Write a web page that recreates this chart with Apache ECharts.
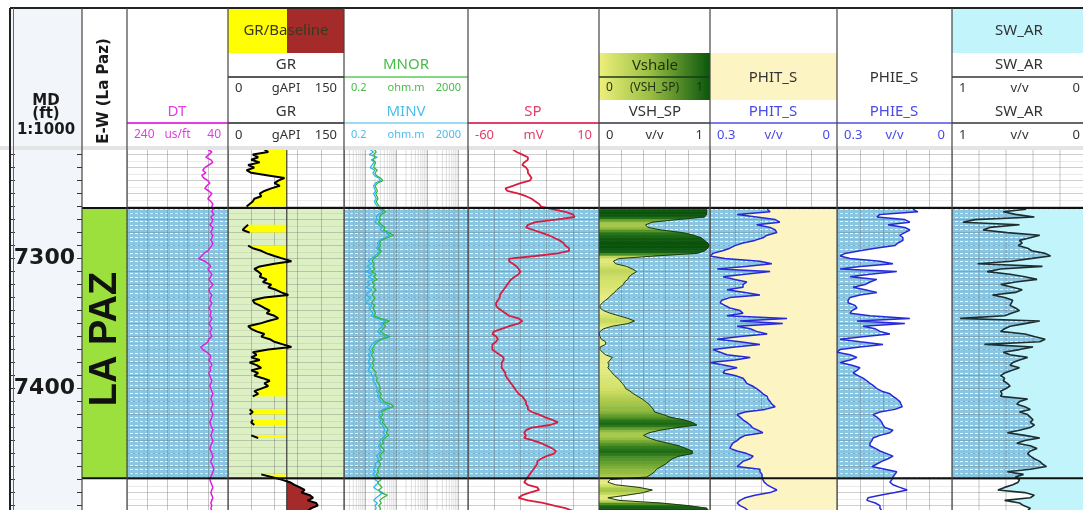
<!DOCTYPE html>
<html>
<head>
<meta charset="utf-8">
<title>Well log - La Paz</title>
<script src="https://cdn.jsdelivr.net/npm/echarts@6.0.0/dist/echarts.min.js"></script>
<style>
html,body{margin:0;padding:0;background:#ffffff;}
#chart{width:1083px;height:510px;}
</style>
</head>
<body>
<div id="chart"></div>
<script>
// ---------------- data ----------------
const depths = [7216,7218,7220,7222,7224,7226,7228,7230,7232,7234,7236,7238,7240,7242,7244,7246,7248,7250,7252,7254,7256,7258,7260,
7262,7264,7266,7268,7270,7272,7274,7276,7278,7280,7282,7284,7286,7288,7290,7292,7294,7296,7298,
7300,7302,7304,7306,7308,7310,7312,7314,7316,7318,7320,7322,7324,7326,7328,7330,7332,7334,7336,7338,7340,
7342,7344,7346,7348,7350,7352,7354,7356,7358,7360,7362,7364,7366,7368,7370,7372,7374,7376,7378,7380,7382,7384,7386,7388,7390,7392,7394,7396,7398,7400,
7402,7404,7406,7408,7410,7412,7414,7416,7418,7420,7422,7424,7426,7428,7430,7432,7434,7436,7438,7440,7442,7444,7446,7448,7450,7452,7454,7456,7458,7460,7462,7464,7466,7468,7470,7472,7474,7476,7478,7480,7482,7484,7486,7488,7490,7492,7494];

const zoneName = 'LA PAZ';
const zoneTop = 7261;
const zoneBottom = 7469;
const depthLabels = [7300, 7400];

const dt = [80,72,78,84,74,70,78,86,90,84,92,88,80,76,82,86,78,72,76,80,74,70,72,
70,72,68,74,70,72,76,70,72,74,70,72,74,70,72,76,80,88,92,
98,86,78,74,80,76,72,74,78,74,70,74,78,76,72,74,76,72,74,78,74,
74,76,72,74,78,74,72,76,74,72,78,80,86,94,90,82,76,74,78,74,72,76,74,78,76,74,72,74,76,74,
72,70,72,74,72,70,72,74,72,70,72,74,76,74,72,70,72,74,72,70,72,74,76,74,72,70,72,74,72,70,68,70,72,74,76,74,72,70,72,74,72,70,72,74,72,74,72];

const gr = [47,52,32,39,30,41,26,34,24,30,52,73,65,60,67,56,47,41,43,34,32,28,24,
null,null,null,null,null,null,26,22,19,28,null,null,null,null,26,32,43,50,60,
71,82,60,41,34,39,43,41,50,45,56,52,62,69,78,47,32,34,41,47,54,
50,60,65,52,41,26,30,37,47,43,54,60,71,82,52,32,37,30,41,28,37,43,30,39,34,45,54,47,52,43,
34,39,32,null,null,null,null,28,32,28,null,32,30,34,null,null,null,30,39,null,
null,null,null,null,null,null,null,null,null,null,null,null,
43,56,69,80,86,93,99,95,106,110,103,114,116,108,103];
const grBaseline = 76;

const mnor = [1.9,2.2,1.8,2.0,1.7,2.1,1.9,1.8,2.4,2.0,2.2,3.0,3.6,2.4,2.0,2.2,2.4,2.1,2.3,2.5,2.2,2.4,2.8,
3.4,4.4,3.2,2.8,3.0,2.6,3.2,4.2,3.8,5.5,8.0,5.0,3.2,2.8,3.0,2.6,3.2,2.8,2.4,
1.8,1.6,1.9,1.7,2.0,1.5,2.2,1.8,2.4,1.6,2.0,1.7,2.2,1.8,1.6,2.0,1.8,1.5,2.0,1.7,1.9,
2.1,1.8,3.0,6.0,3.5,4.5,3.6,3.0,3.8,6.2,3.4,2.4,2.0,1.8,1.6,1.8,1.5,1.7,1.9,1.6,1.8,1.6,1.9,2.2,2.0,2.4,2.2,2.6,2.8,3.0,
2.6,3.2,2.8,3.4,3.8,6.5,8.0,4.5,3.2,3.6,3.0,3.8,3.4,4.2,4.8,5.2,4.6,5.5,4.2,3.4,3.8,3.0,3.6,4.0,3.2,2.8,3.4,2.6,3.0,2.8,2.4,2.6,2.2,2.6,3.2,2.4,2.8,3.4,2.6,3.0,5.0,3.6,2.8,3.2,2.6,3.0,2.8];

const minv = [1.4,1.8,1.3,2.4,1.5,1.9,1.6,1.4,2.0,1.7,1.9,2.6,3.0,2.0,1.8,1.9,2.1,1.8,2.0,2.2,1.9,2.1,2.4,
3.0,3.6,2.6,2.2,2.4,2.0,2.6,3.4,3.0,4.4,6.0,4.0,2.8,2.4,2.6,2.2,2.8,2.4,2.0,
1.5,1.2,1.6,1.1,1.5,1.0,1.7,1.2,1.8,1.1,1.4,1.0,1.6,1.2,1.0,1.5,1.2,1.0,1.6,1.3,1.5,
1.7,1.5,2.4,4.6,2.8,3.6,2.8,2.4,3.0,4.8,2.8,2.0,1.6,1.4,1.3,1.5,1.2,1.4,1.3,1.2,1.5,1.3,1.2,1.5,1.6,1.8,1.7,2.0,2.2,2.4,
2.2,2.6,2.4,2.8,3.0,4.6,6.0,3.6,2.6,3.0,2.6,3.2,2.8,3.4,3.8,4.2,3.6,4.4,3.4,2.8,3.0,2.6,2.8,3.2,2.6,2.2,2.6,2.4,2.0,2.2,1.8,2.0,1.7,2.2,2.0,2.6,2.2,1.8,2.4,3.6,2.8,2.2,1.8,2.4,2.0,2.2,1.9];

const sp = [-36,-34,-31,-28,-28,-30,-31,-29,-28,-28,-27,-26,-27,-32,-36,-40,-39,-33,-29,-26,-24,-22,-21,
-15,-8,-4,-3,-13,-24,-28,-29,-25,-21,-17,-14,-11,-9,-8,-6,-6,-12,-24,
-38,-38,-36,-34,-33,-32,-33,-35,-37,-38,-39,-40,-41,-42,-43,-43,-44,-45,-45,-44,-42,
-40,-38,-33,-31,-33,-38,-42,-46,-47,-45,-44,-45,-47,-47,-47,-45,-43,-41,-41,-42,-42,-42,-41,-40,-40,-39,-38,-37,-36,-35,
-34,-33,-31,-30,-29,-29,-28,-28,-26,-22,-19,-15,-12,-16,-26,-29,-30,-29,-30,-25,-21,-18,-15,-13,-14,-18,-21,-23,-23,-24,-25,-26,-27,-28,-29,-30,-28,-23,-22,-27,-31,-33,-28,-20,-14,-8,-4];

const vsh = [null,null,null,null,null,null,null,null,null,null,null,null,null,null,null,null,null,null,null,null,null,null,null,
0.97,0.97,0.97,0.95,0.70,0.48,0.42,0.44,0.56,0.75,0.85,0.92,0.95,0.98,0.99,0.98,0.95,0.88,0.50,
0.18,0.13,0.15,0.25,0.30,0.34,0.30,0.27,0.26,0.23,0.22,0.19,0.16,0.14,0.11,0.09,0.06,0.03,0.01,0.01,0.04,
0.10,0.18,0.26,0.32,0.26,0.12,0.04,0.01,0.0,0.01,0.02,0.06,0.06,0.01,0.01,0.03,0.06,0.12,0.10,0.08,0.09,0.08,0.10,0.12,0.14,0.17,0.19,0.21,0.23,0.24,
0.28,0.31,0.35,0.39,0.42,0.45,0.47,0.49,0.50,0.58,0.64,0.76,0.84,0.88,0.70,0.55,0.45,0.40,0.45,0.52,0.62,0.72,0.78,0.84,0.84,0.72,0.66,0.63,0.60,0.56,0.52,0.50,0.47,0.43,0.10,0.08,0.15,0.36,0.48,0.40,0.25,0.08,0.18,0.55,0.80,0.97,0.99];

const phit = [null,null,null,null,null,null,null,null,null,null,null,null,null,null,null,null,null,null,null,null,null,null,null,
0.165,0.158,0.236,0.19,0.146,0.135,0.19,0.158,0.146,0.142,0.165,0.175,0.194,0.222,0.241,0.253,0.27,0.293,0.30,
0.265,0.182,0.154,0.217,0.283,0.158,0.217,0.269,0.241,0.213,0.222,0.222,0.26,0.217,0.182,0.253,0.272,0.276,0.265,0.253,0.229,
0.222,0.26,0.118,0.229,0.128,0.236,0.205,0.19,0.165,0.229,0.283,0.229,0.182,0.241,0.293,0.276,0.26,0.205,0.241,0.30,0.265,0.236,0.265,0.269,0.241,0.222,0.217,0.213,0.2,0.19,
0.182,0.175,0.165,0.163,0.158,0.154,0.146,0.17,0.217,0.236,0.229,0.222,0.213,0.205,0.2,0.187,0.175,0.217,0.229,0.236,0.246,0.25,0.253,0.236,0.213,0.198,0.205,0.222,0.229,0.236,0.182,0.182,0.177,0.177,0.175,0.172,0.165,0.154,0.142,0.158,0.194,0.217,0.229,0.236,0.229,0.217,0.21];

const phie = [null,null,null,null,null,null,null,null,null,null,null,null,null,null,null,null,null,null,null,null,null,null,null,
0.102,0.089,0.188,0.196,0.123,0.110,0.167,0.123,0.110,0.123,0.136,0.128,0.128,0.141,0.149,0.2,0.24,0.279,0.292,
0.266,0.188,0.154,0.24,0.292,0.144,0.214,0.266,0.196,0.214,0.227,0.258,0.227,0.196,0.24,0.266,0.271,0.271,0.253,0.248,0.261,
0.266,0.214,0.110,0.248,0.123,0.232,0.2,0.188,0.162,0.227,0.292,0.24,0.18,0.24,0.292,0.30,0.266,0.248,0.266,0.292,0.261,0.24,0.248,0.258,0.245,0.232,0.222,0.214,0.204,0.196,
0.183,0.162,0.154,0.144,0.136,0.133,0.13,0.149,0.188,0.206,0.196,0.188,0.183,0.18,0.175,0.154,0.162,0.188,0.206,0.209,0.214,0.214,0.2,0.188,0.17,0.154,0.167,0.183,0.196,0.209,0.175,0.144,0.149,0.154,0.157,0.162,0.154,0.136,0.117,0.149,0.188,0.219,0.222,0.2,0.188,0.188,0.183];

const swar = [null,null,null,null,null,null,null,null,null,null,null,null,null,null,null,null,null,null,null,null,null,null,null,
0.45,0.62,0.53,0.39,0.83,0.92,0.50,0.72,0.77,0.59,0.35,0.42,0.50,0.48,0.51,0.44,0.41,0.31,0.27,
0.42,0.56,0.81,0.33,0.64,0.74,0.57,0.46,0.37,0.53,0.64,0.55,0.48,0.53,0.70,0.61,0.55,0.56,0.57,0.53,0.50,
0.56,0.61,0.94,0.35,0.46,0.57,0.61,0.64,0.46,0.39,0.31,0.35,0.76,0.40,0.50,0.62,0.57,0.44,0.50,0.55,0.57,0.50,0.56,0.61,0.64,0.61,0.62,0.59,0.57,0.60,
0.64,0.63,0.64,0.44,0.50,0.52,0.46,0.42,0.50,0.44,0.42,0.40,0.42,0.39,0.42,0.50,0.59,0.46,0.35,0.46,0.52,0.42,0.37,0.42,0.44,0.42,0.39,0.35,0.33,0.30,0.42,0.59,0.47,0.53,0.50,0.51,0.55,0.61,0.66,0.46,0.39,0.42,0.61,0.50,0.47,0.42,0.44];

const resMinorTicks = [0.3,0.4,0.5,0.6,0.7,0.8,0.9,2,3,4,5,6,7,8,9,20,30,40,50,60,70,80,90,200,300,400,500,600,700,800,900];
const swGridTicks = [0.2, 0.4, 0.6, 0.8];

// ---------------- layout ----------------
const trackLeft  = [10, 82, 127, 228, 344, 468, 599, 710, 837, 952];
const trackWidth = [72, 45, 101, 116, 124, 131, 111, 127, 115, 131];
const SW_VISIBLE_MIN = 4 / 135;   // SW track runs 952..1087, the window ends at 1083
const trackExt = [[0,1],[0,1],[40,240],[0,150],[0.2,2000],[-60,10],[0,1],[0,0.3],[0,0.3],[SW_VISIBLE_MIN,1]];
const DEPTH_MIN = 7210, DEPTH_MAX = 7493.4;
const GRID_TOP = 141.6, GRID_H = 368.4;

const pattern = (function(){
  const c = document.createElement('canvas'); c.width = 5; c.height = 4;
  const g = c.getContext('2d');
  g.fillStyle = '#8ac6e2'; g.fillRect(0,0,5,4);
  g.fillStyle = 'rgba(255,255,255,0.9)'; g.fillRect(0,1,3,1);
  return c;
})();
const zoneFill = {image: pattern, repeat: 'repeat'};

const vshStops = [[0,[240,242,150]],[0.25,[212,226,104]],[0.45,[164,198,70]],[0.65,[86,150,40]],[0.85,[28,106,20]],[1,[8,80,10]]];
function vshColor(v){
  v = Math.max(0, Math.min(1, v));
  for (let k = 1; k < vshStops.length; k++) {
    if (v <= vshStops[k][0]) {
      const a = vshStops[k-1][0], ca = vshStops[k-1][1], b = vshStops[k][0], cb = vshStops[k][1];
      const t = (v - a) / (b - a);
      return 'rgb(' + ca.map((c,j)=>Math.round(c + (cb[j]-c)*t)).join(',') + ')';
    }
  }
  return 'rgb(8,80,10)';
}

function custom(gi, z, build, clip){
  const e = trackExt[gi];
  const rx = gi === 4 ? 1 : (e[0] + e[1]) / 2;
  return {type:'custom', xAxisIndex:gi, yAxisIndex:gi, z:z, silent:true, clip: clip !== false, animation:false,
    data:[[rx, 7300]], encode:{x:0, y:1},
    renderItem: function(params, api){ return {type:'group', children: build(api)}; }};
}
function zoneRectEl(api, gi, fill){
  const e = trackExt[gi];
  const p1 = api.coord([e[0], zoneTop]), p2 = api.coord([e[1], zoneBottom]);
  return {type:'rect', shape:{x:Math.min(p1[0],p2[0]), y:p1[1], width:Math.abs(p2[0]-p1[0]), height:p2[1]-p1[1]}, style:{fill:fill}};
}
function vLines(api, values, stroke){
  return values.map(v => {
    const p1 = api.coord([v, DEPTH_MIN]), p2 = api.coord([v, DEPTH_MAX]);
    return {type:'line', shape:{x1:p1[0], y1:p1[1], x2:p2[0], y2:p2[1]}, style:{stroke:stroke, lineWidth:1}};
  });
}
function runsOf(vals){
  const out = []; let cur = [];
  vals.forEach((v,i)=>{ if (v == null) { if (cur.length) out.push(cur); cur = []; } else cur.push(i); });
  if (cur.length) out.push(cur);
  return out;
}
function edgeFill(api, vals, edge, fill){
  const out = [];
  runsOf(vals).forEach(r=>{
    if (r.length < 2) return;
    const pts = r.map(i=>api.coord([vals[i], depths[i]]));
    pts.push(api.coord([edge, depths[r[r.length-1]]]));
    pts.push(api.coord([edge, depths[r[0]]]));
    out.push({type:'polygon', shape:{points:pts}, style:{fill:fill}});
  });
  return out;
}
function vshStrips(api){
  const out = [];
  for (let i = 0; i < depths.length - 1; i++) {
    const a = vsh[i], b = vsh[i+1];
    if (a == null || b == null) continue;
    const col = vshColor((a + b) / 2);
    out.push({type:'polygon', shape:{points:[api.coord([0,depths[i]]), api.coord([a,depths[i]]), api.coord([b,depths[i+1]]), api.coord([0,depths[i+1]])]},
      style:{fill:col, stroke:col, lineWidth:0.6}});
  }
  return out;
}
function curve(gi, vals, color, width){
  return {type:'line', xAxisIndex:gi, yAxisIndex:gi, z:5, silent:true, animation:false, showSymbol:false, symbol:'none',
    connectNulls:false, data: depths.map((d,i)=>[vals[i], d]), lineStyle:{color:color, width:width}};
}

const inZone = d => d >= zoneTop && d <= zoneBottom;
const phieZone = phie.map((v,i)=> inZone(depths[i]) ? v : null);
const grLow  = gr.map(v => v == null ? null : Math.min(v, grBaseline));
const grHigh = gr.map(v => v == null ? null : Math.max(v, grBaseline));

// ---------------- axes ----------------
const hid = {axisLine:{show:false}, axisTick:{show:false}, axisLabel:{show:false}, splitLine:{show:false}, z:2};
const vgl = {show:true, lineStyle:{color:'rgba(105,105,105,0.38)', width:1}};
const xAxis = [
  Object.assign({}, hid, {gridIndex:0, type:'value', min:0, max:1}),
  Object.assign({}, hid, {gridIndex:1, type:'value', min:0, max:1}),
  Object.assign({}, hid, {gridIndex:2, type:'value', min:40, max:240, inverse:true, interval:40, splitLine:vgl}),
  Object.assign({}, hid, {gridIndex:3, type:'value', min:0, max:150, interval:30, splitLine:vgl}),
  Object.assign({}, hid, {gridIndex:4, type:'log', logBase:10, min:0.2, max:2000, splitLine:{show:true, lineStyle:{color:'rgba(100,100,100,0.45)'}}}),
  Object.assign({}, hid, {gridIndex:5, type:'value', min:-60, max:10, interval:14, splitLine:vgl}),
  Object.assign({}, hid, {gridIndex:6, type:'value', min:0, max:1, interval:0.2, splitLine:vgl}),
  Object.assign({}, hid, {gridIndex:7, type:'value', min:0, max:0.3, inverse:true, interval:0.06, splitLine:vgl}),
  Object.assign({}, hid, {gridIndex:8, type:'value', min:0, max:0.3, inverse:true, interval:0.06, splitLine:vgl}),
  Object.assign({}, hid, {gridIndex:9, type:'value', min:SW_VISIBLE_MIN, max:1, inverse:true})
];
const baseY = Object.assign({}, hid, {type:'value', min:DEPTH_MIN, max:DEPTH_MAX, inverse:true, interval:10});
const yAxis = trackLeft.map((_, i) => Object.assign({}, baseY, {
  gridIndex:i,
  splitLine: i >= 2 ? {show:true, lineStyle:{color:'rgba(105,105,105,0.32)', width:1}} : {show:false},
  minorTick:{show:false, splitNumber:2},
  minorSplitLine:{show: i >= 2, lineStyle:{color:'rgba(130,130,130,0.16)', width:1}}
}));
yAxis[0] = Object.assign({}, baseY, {gridIndex:0, position:'left', axisTick:{show:true, inside:true, length:5, lineStyle:{color:'#333'}}});
yAxis.push(Object.assign({}, baseY, {gridIndex:0, position:'right',
  axisTick:{show:true, inside:true, length:5, lineStyle:{color:'#333'}},
  axisLabel:{show:true, inside:true, margin:7, formatter: v => depthLabels.includes(v) ? String(v) : '',
    fontFamily:'DejaVu Sans', fontWeight:'bold', fontSize:22, color:'#1a1a1a'}}));

// ---------------- series ----------------
const series = [];
[2,4,5,6,7,8,9].forEach(gi => series.push(custom(gi, 1, api => [zoneRectEl(api, gi, zoneFill)])));
series.push(custom(3, 1, api => [zoneRectEl(api, 3, '#dcf0c4')]));
series.push(custom(1, 1, api => {
  const r = zoneRectEl(api, 1, '#9be03c');
  const cx = r.shape.x + r.shape.width / 2 + 1, cy = r.shape.y + r.shape.height / 2 - 4;
  return [r, {type:'text', x:cx, y:cy, rotation:Math.PI/2,
    style:{text:zoneName, fill:'#111111', font:'bold 38px "Liberation Sans", Arial, sans-serif', align:'center', verticalAlign:'middle', textAlign:'center', textVerticalAlign:'middle'}}];
}));
series.push(custom(4, 2, api => vLines(api, resMinorTicks, 'rgba(140,140,140,0.28)')));
series.push(custom(9, 2, api => vLines(api, swGridTicks, 'rgba(105,105,105,0.38)')));
series.push(custom(3, 3, api => edgeFill(api, grLow, grBaseline, '#ffff00').concat(edgeFill(api, grHigh, grBaseline, '#a52a2a'))));
series.push(custom(6, 3, vshStrips));
series.push(custom(7, 3, api => edgeFill(api, phit, 0, '#fdf4c4')));
series.push(custom(8, 3, api => edgeFill(api, phieZone, 0, '#ffffff')));
series.push(custom(9, 3, api => edgeFill(api, swar, 0, '#c2f4fc')));
series.push(custom(3, 4, api => {
  const p1 = api.coord([grBaseline, DEPTH_MIN]), p2 = api.coord([grBaseline, DEPTH_MAX]);
  return [{type:'line', shape:{x1:p1[0], y1:p1[1], x2:p2[0], y2:p2[1]}, style:{stroke:'#3a3a3a', lineWidth:1.2}}];
}));
series.push(curve(2, dt, '#e01ee0', 1.5));
series.push(curve(3, gr, '#000000', 2));
series.push(curve(4, minv, '#2ab4ec', 1.2));
series.push(curve(4, mnor, '#36b436', 1.2));
series.push(curve(5, sp, '#d81e40', 1.8));
series.push(curve(6, vsh, '#1d3a14', 1));
series.push(curve(7, phit, '#2828d8', 1.5));
series.push(curve(8, phie, '#2828d8', 1.5));
series.push(curve(9, swar, '#1e2e2e', 1.6));
series.push(custom(1, 6, api => {
  const t = api.coord([0, zoneTop]), b = api.coord([0, zoneBottom]);
  const W = api.getWidth();
  return [t, b].map(p => ({type:'line', shape:{x1:p[0], y1:p[1], x2:W, y2:p[1]}, style:{stroke:'#111111', lineWidth:2}}));
}, false));

// ---------------- header (decoration) ----------------
const G = [];
const FONT = '"Noto Sans", "DejaVu Sans", sans-serif';
function gRect(x,y,w,h,fill){ G.push({type:'rect', shape:{x:x,y:y,width:w,height:h}, style:{fill:fill}, z:100, silent:true}); }
function gLine(x1,y1,x2,y2,stroke,lw){ G.push({type:'line', shape:{x1:x1,y1:y1,x2:x2,y2:y2}, style:{stroke:stroke, lineWidth:lw}, z:103, silent:true}); }
function gText(x,y,t,fill,size,align,opt){
  opt = opt || {};
  G.push({type:'text', x:x, y:y, rotation:opt.rot || 0, z:104, silent:true,
    style:{text:t, fill:fill, font:(opt.bold ? 'bold ' : '') + size + 'px ' + (opt.font || FONT),
      align:align || 'center', verticalAlign:'middle', textAlign:align || 'center', textVerticalAlign:'middle'}});
}
function scaleRow(left, right, y, a, b, c, color, size){
  gText(left + 7, y, a, color, size, 'left');
  gText((left + right) / 2, y, b, color, size, 'center');
  gText(right - 7, y, c, color, size, 'right');
}

gRect(0, 0, 1083, 146, '#ffffff');
gRect(0, 146, 1083, 4, '#e4e4e4');
gRect(10, 8, 72, 138, '#f2f6fa');
gRect(228, 8, 59, 45, '#ffff00');
gRect(287, 8, 57, 45, '#a52a2a');
G.push({type:'rect', shape:{x:599, y:53, width:111, height:47}, z:100, silent:true,
  style:{fill:{type:'linear', x:0, y:0, x2:1, y2:0, colorStops:[{offset:0, color:'#eef07a'},{offset:0.45, color:'#9cc044'},{offset:1, color:'#0a560c'}]}}});
gRect(710, 53, 127, 47, '#fdf4c4');
gRect(952, 8, 135, 45, '#c2f4fc');

// MD & E-W
gText(46, 101, 'MD', '#1a1a1a', 15, 'center', {bold:true, font:'"DejaVu Sans", sans-serif'});
gText(46, 114, '(ft)', '#1a1a1a', 15, 'center', {bold:true, font:'"DejaVu Sans", sans-serif'});
gText(46, 130, '1:1000', '#1a1a1a', 15, 'center', {bold:true, font:'"DejaVu Sans", sans-serif'});
gText(104, 91, 'E-W (La Paz)', '#1a1a1a', 15, 'center', {bold:true, rot:Math.PI/2, font:'"DejaVu Sans", sans-serif'});

// DT
gText(177, 112, 'DT', '#e040e0', 15);
gLine(127, 123, 228, 123, '#e040e0', 2);
scaleRow(127, 228, 135, '240', 'us/ft', '40', '#e040e0', 12);

// GR
gText(286, 31, 'GR/Baseline', '#3a3a20', 15);
gText(286, 65, 'GR', '#333333', 15);
gLine(228, 77, 344, 77, '#222222', 1.5);
scaleRow(228, 344, 88, '0', 'gAPI', '150', '#333333', 13);
gText(286, 112, 'GR', '#333333', 15);
gLine(228, 123, 344, 123, '#222222', 1.5);
scaleRow(228, 344, 135, '0', 'gAPI', '150', '#333333', 13);

// MNOR / MINV
gText(406, 65, 'MNOR', '#48bb48', 15);
gLine(344, 77, 468, 77, '#5cc85c', 1.5);
scaleRow(344, 468, 88, '0.2', 'ohm.m', '2000', '#48bb48', 11);
gText(406, 112, 'MINV', '#4cbcec', 15);
gLine(344, 123, 468, 123, '#7ccff0', 1.5);
scaleRow(344, 468, 135, '0.2', 'ohm.m', '2000', '#4cbcec', 11);

// SP
gText(533, 112, 'SP', '#e0406a', 15);
gLine(468, 123, 599, 123, '#e0406a', 2);
scaleRow(468, 599, 135, '-60', 'mV', '10', '#e0406a', 13);

// Vshale
gText(655, 66, 'Vshale', '#1f2f10', 15);
gLine(599, 77, 710, 77, '#1a3a1a', 1.5);
scaleRow(599, 710, 88, '0', '(VSH_SP)', '1', '#1f2f10', 12);
gText(655, 112, 'VSH_SP', '#333333', 15);
gLine(599, 123, 710, 123, '#333344', 1.5);
scaleRow(599, 710, 135, '0', 'v/v', '1', '#333333', 13);

// PHIT_S
gText(773, 78, 'PHIT_S', '#333333', 15);
gText(773, 112, 'PHIT_S', '#4a4ae6', 15);
gLine(710, 123, 837, 123, '#5050e0', 1.5);
scaleRow(710, 837, 135, '0.3', 'v/v', '0', '#4a4ae6', 13);

// PHIE_S
gText(894, 78, 'PHIE_S', '#333333', 15);
gText(894, 112, 'PHIE_S', '#4a4ae6', 15);
gLine(837, 123, 952, 123, '#5050e0', 1.5);
scaleRow(837, 952, 135, '0.3', 'v/v', '0', '#4a4ae6', 13);

// SW_AR
gText(1019, 31, 'SW_AR', '#333333', 15);
gText(1019, 65, 'SW_AR', '#333333', 15);
gLine(952, 77, 1087, 77, '#333333', 1.5);
scaleRow(952, 1087, 88, '1', 'v/v', '0', '#333333', 13);
gText(1019, 112, 'SW_AR', '#333333', 15);
gLine(952, 123, 1087, 123, '#333333', 1.5);
scaleRow(952, 1087, 135, '1', 'v/v', '0', '#333333', 13);

// borders and separators
gLine(10, 8, 1083, 8, '#222222', 2);
gLine(10, 8, 10, 510, '#222222', 2);
gLine(13.5, 8, 13.5, 510, '#666666', 1);
[82, 127, 228, 344, 468, 599, 710, 837, 952].forEach(x => gLine(x, 8, x, 510, '#444444', 1.2));

// ---------------- chart ----------------
const chart = echarts.init(document.getElementById('chart'), null, {renderer:'canvas', width:1083, height:510});
chart.setOption({
  animation: false,
  backgroundColor: '#ffffff',
  grid: trackLeft.map((l, i) => ({left:l, top:GRID_TOP, width:trackWidth[i], height:GRID_H, containLabel:false,
    show: i === 0, backgroundColor:'#f2f6fa', borderWidth:0})),
  xAxis: xAxis,
  yAxis: yAxis,
  series: series,
  graphic: {elements: G}
});
</script>
</body>
</html>
